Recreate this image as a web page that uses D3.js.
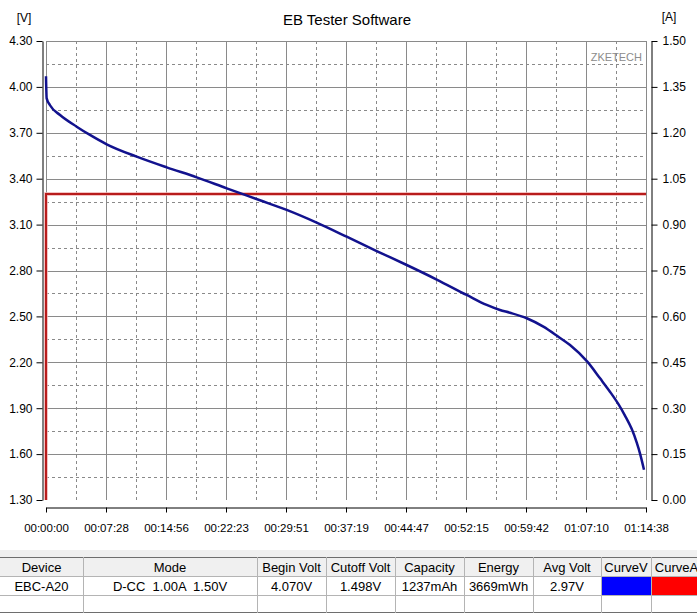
<!DOCTYPE html>
<html>
<head>
<meta charset="utf-8">
<script src="https://cdn.jsdelivr.net/npm/d3@7"></script>
<style>
  html, body { margin: 0; padding: 0; background: #ffffff; }
  svg { display: block; }
  text { font-family: "Liberation Sans", Arial, sans-serif; }
</style>
</head>
<body>
<svg id="chart" width="697" height="614"></svg>
<script>
// ---- Data ----
const chartTitle = "EB Tester Software";
const totalSeconds = 4478; // 01:14:38
const timeTickLabels = ["00:00:00","00:07:28","00:14:56","00:22:23","00:29:51","00:37:19","00:44:47","00:52:15","00:59:42","01:07:10","01:14:38"];
const voltTicks = [1.30,1.60,1.90,2.20,2.50,2.80,3.10,3.40,3.70,4.00,4.30];
const ampTicks = [0.00,0.15,0.30,0.45,0.60,0.75,0.90,1.05,1.20,1.35,1.50];

// voltage curve (time in seconds, volts)
const voltTime = [0,5,30,105,229,328,453,677,901,1125,1349,1597,1796,2020,2244,2468,2692,2916,3140,3289,3388,3463,3588,3712,3824,3911,4040,4135,4209,4271,4321,4371,4409,4433,4463];
const voltValues = [4.07,3.925,3.88,3.816,3.74,3.686,3.625,3.544,3.474,3.409,3.337,3.259,3.196,3.113,3.021,2.927,2.836,2.741,2.64,2.575,2.542,2.524,2.488,2.433,2.367,2.313,2.204,2.095,2.008,1.928,1.852,1.765,1.675,1.605,1.498];

// current curve (time in seconds, amps)
const ampTime = [0,0,4478];
const ampValues = [0.00,1.00,1.00];

// table
const tableHeaders = ["Device","Mode","Begin Volt","Cutoff Volt","Capacity","Energy","Avg Volt","CurveV","CurveA"];
const tableRow = ["EBC-A20","D-CC  1.00A  1.50V","4.070V","1.498V","1237mAh","3669mWh","2.97V","",""];
const curveColors = ["#0000ff","#ff0000"];

// ---- Layout ----
const svg = d3.select("#chart");
const plotL = 46, plotR = 646, plotT = 41, plotB = 500;

const x = d3.scaleLinear().domain([0, totalSeconds]).range([plotL, plotR]);
const yV = d3.scaleLinear().domain([1.30, 4.30]).range([plotB, plotT]);
const yA = d3.scaleLinear().domain([0, 1.50]).range([plotB, plotT]);

const timeTickValues = timeTickLabels.map((d, i) => i * totalSeconds / (timeTickLabels.length - 1));

// grid
const grid = svg.append("g");
const gridColor = "#8a8a8a";
for (let i = 0; i < timeTickValues.length - 1; i++) {
  const xm = Math.round(x((timeTickValues[i] + timeTickValues[i + 1]) / 2)) + 0.5;
  grid.append("line").attr("x1", xm).attr("x2", xm).attr("y1", plotT).attr("y2", plotB)
    .attr("stroke", gridColor).attr("stroke-dasharray", "3,3");
}
for (let i = 0; i < voltTicks.length - 1; i++) {
  const ym = Math.round(yV((voltTicks[i] + voltTicks[i + 1]) / 2)) + 0.5;
  grid.append("line").attr("x1", plotL).attr("x2", plotR + 1).attr("y1", ym).attr("y2", ym)
    .attr("stroke", gridColor).attr("stroke-dasharray", "3,3");
}
timeTickValues.forEach(t => {
  const xs = Math.round(x(t)) + 0.5;
  grid.append("line").attr("x1", xs).attr("x2", xs).attr("y1", plotT).attr("y2", plotB)
    .attr("stroke", gridColor);
});
voltTicks.slice(1).forEach(v => {
  const ys = Math.round(yV(v)) + 0.5;
  grid.append("line").attr("x1", plotL).attr("x2", plotR + 1).attr("y1", ys).attr("y2", ys)
    .attr("stroke", gridColor);
});

// watermark
svg.append("text").attr("x", 642).attr("y", 61).attr("text-anchor", "end")
  .attr("font-size", 11).attr("fill", "#8c8c8c").text("ZKETECH");

// current line
const ampLine = d3.line().x((d, i) => x(ampTime[i])).y(d => yA(d));
svg.append("path").datum(ampValues).attr("d", ampLine)
  .attr("fill", "none").attr("stroke", "#f0b0b0").attr("stroke-width", 3.5);
svg.append("path").datum(ampValues).attr("d", ampLine)
  .attr("fill", "none").attr("stroke", "#b81c1c").attr("stroke-width", 2);

// voltage line
const voltLine = d3.line().x((d, i) => x(voltTime[i])).y(d => yV(d)).curve(d3.curveMonotoneX);
svg.append("path").datum(voltValues).attr("d", voltLine)
  .attr("fill", "none").attr("stroke", "#12128e").attr("stroke-width", 2.5)
  .attr("stroke-linejoin", "round");

// axes
const axisFont = 12;
const gL = svg.append("g").attr("transform", "translate(42.5,0)")
  .call(d3.axisLeft(yV).tickValues(voltTicks).tickFormat(d3.format(".2f")).tickSize(6).tickSizeOuter(0).tickPadding(4));
const gR = svg.append("g").attr("transform", "translate(651.5,0)")
  .call(d3.axisRight(yA).tickValues(ampTicks).tickFormat(d3.format(".2f")).tickSize(6).tickSizeOuter(0).tickPadding(5));
const gB = svg.append("g").attr("transform", "translate(0,507.5)")
  .call(d3.axisBottom(x).tickValues(timeTickValues).tickFormat((d, i) => timeTickLabels[i]).tickSize(5).tickSizeOuter(0).tickPadding(11));
[gL, gR, gB].forEach(g => {
  g.selectAll("text").attr("font-size", axisFont).attr("fill", "#000").attr("font-family", "Liberation Sans, Arial, sans-serif");
  g.selectAll("line").attr("stroke", "#000");
  g.select(".domain").attr("stroke", "#000");
});
gB.selectAll("text").attr("font-size", 11.5);

// unit labels and title
svg.append("text").attr("x", 24).attr("y", 22).attr("text-anchor", "middle").attr("font-size", 12).text("[V]");
svg.append("text").attr("x", 669).attr("y", 21).attr("text-anchor", "middle").attr("font-size", 12).text("[A]");
svg.append("text").attr("x", 347).attr("y", 25).attr("text-anchor", "middle").attr("font-size", 15).text(chartTitle);

// ---- Table ----
const colEdges = [0, 83, 257, 326, 395, 464, 533, 601, 651, 702];
const tT = 557, tH = 576, tR1 = 595, tB = 613;
const tbl = svg.append("g");
tbl.append("rect").attr("x", 0).attr("y", 550).attr("width", 697).attr("height", tT - 550).attr("fill", "#f0f0f0");
tbl.append("rect").attr("x", 0).attr("y", tT).attr("width", 697).attr("height", tH - tT).attr("fill", "#f0f0f0");
tbl.append("rect").attr("x", 0).attr("y", tH).attr("width", 697).attr("height", tB - tH).attr("fill", "#ffffff");
curveColors.forEach((c, i) => {
  tbl.append("rect").attr("x", colEdges[7 + i] + 1).attr("y", tH + 1)
    .attr("width", colEdges[8 + i] - colEdges[7 + i] - 1).attr("height", tR1 - tH - 1).attr("fill", c);
});
[tH, tR1].forEach(yy => tbl.append("line").attr("x1", 0).attr("x2", 697).attr("y1", yy + 0.5).attr("y2", yy + 0.5).attr("stroke", "#b4b4b4"));
tbl.append("line").attr("x1", 0).attr("x2", 697).attr("y1", tT + 0.5).attr("y2", tT + 0.5).attr("stroke", "#6e6e6e");
tbl.append("line").attr("x1", 0).attr("x2", 697).attr("y1", tB - 0.5).attr("y2", tB - 0.5).attr("stroke", "#6e6e6e");
colEdges.slice(1, -1).forEach(cx => tbl.append("line").attr("x1", cx + 0.5).attr("x2", cx + 0.5).attr("y1", tT).attr("y2", tB).attr("stroke", "#b4b4b4"));
tableHeaders.forEach((h, i) => {
  tbl.append("text").attr("x", (colEdges[i] + colEdges[i + 1]) / 2).attr("y", tT + 14.5)
    .attr("text-anchor", "middle").attr("font-size", 13).attr("fill", "#000").text(h);
});
tableRow.forEach((v, i) => {
  if (!v) return;
  tbl.append("text").attr("x", (colEdges[i] + colEdges[i + 1]) / 2).attr("y", tH + 14.5)
    .attr("text-anchor", "middle").attr("font-size", 13).attr("fill", "#000")
    .attr("xml:space", "preserve").style("white-space", "pre").text(v);
});
</script>
</body>
</html>
